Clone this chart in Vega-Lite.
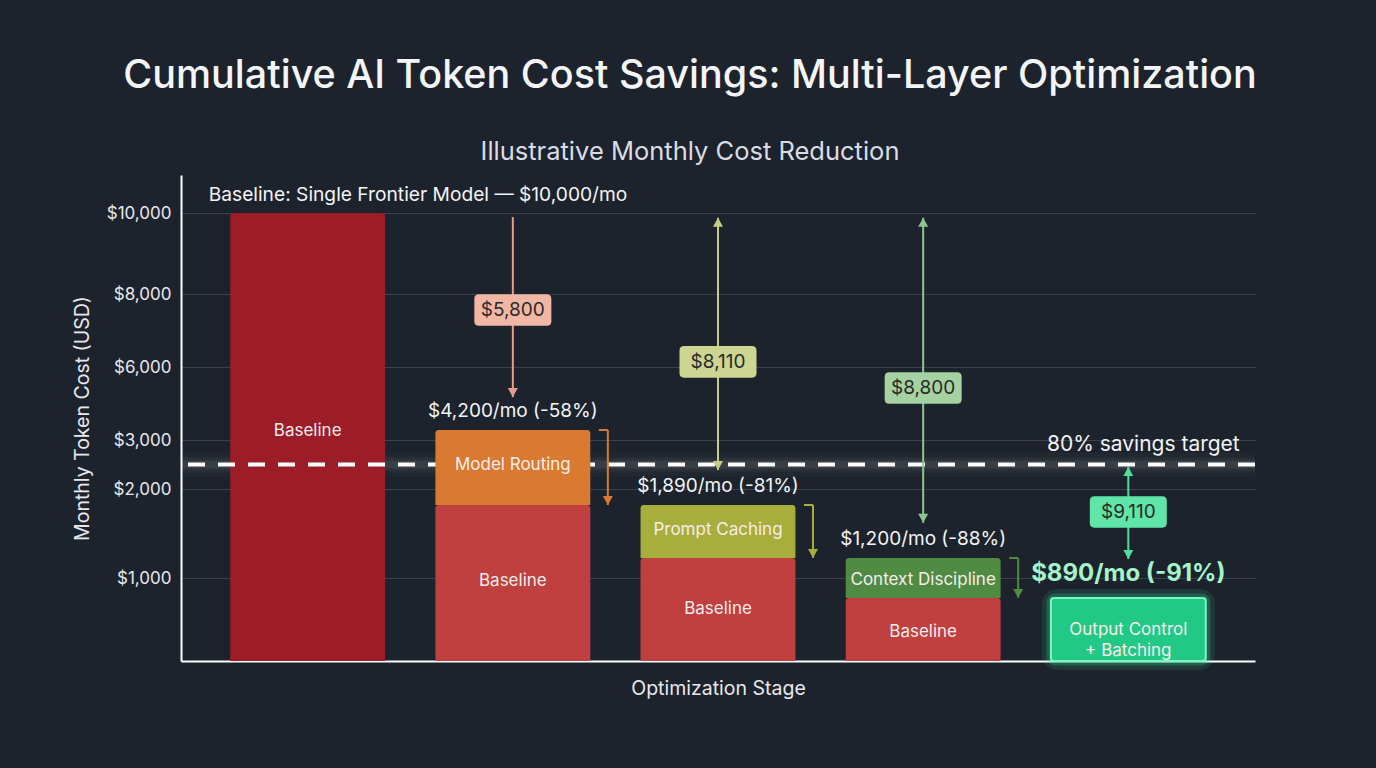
{
  "$schema": "https://vega.github.io/schema/vega-lite/v6.json",
  "width": 1074,
  "height": 486,
  "autosize": {"type": "none"},
  "padding": {"left": 181, "top": 175, "right": 121, "bottom": 107},
  "background": "#1d232c",
  "title": {
    "text": "Cumulative AI Token Cost Savings: Multi-Layer Optimization",
    "subtitle": "Illustrative Monthly Cost Reduction",
    "anchor": "middle",
    "dx": -28,
    "offset": 9,
    "font": "Inter",
    "subtitleFont": "Inter",
    "fontSize": 39.5,
    "fontWeight": 500,
    "color": "#f3f5f8",
    "subtitleFontSize": 25.5,
    "subtitleColor": "#d9dde3",
    "subtitlePadding": 43
  },
  "datasets": {
    "segments": [
      {"stage": "Baseline", "segment": "Baseline (original)", "label": "Baseline", "start": 0, "end": 10000, "label_at": 4080},
      {"stage": "Model Routing", "segment": "Baseline (remaining)", "label": "Baseline", "start": 0, "end": 1890, "label_at": 983},
      {"stage": "Model Routing", "segment": "Model Routing", "label": "Model Routing", "start": 1890, "end": 4200, "label_at": 2480},
      {"stage": "Prompt Caching", "segment": "Baseline (remaining)", "label": "Baseline", "start": 0, "end": 1200, "label_at": 735},
      {"stage": "Prompt Caching", "segment": "Prompt Caching", "label": "Prompt Caching", "start": 1200, "end": 1890, "label_at": 1565},
      {"stage": "Context Discipline", "segment": "Baseline (remaining)", "label": "Baseline", "start": 0, "end": 890, "label_at": 410},
      {"stage": "Context Discipline", "segment": "Context Discipline", "label": "Context Discipline", "start": 890, "end": 1200, "label_at": 989},
      {"stage": "Output Control + Batching", "segment": "Output Control + Batching", "label": "Output Control\n+ Batching", "start": 0, "end": 890, "label_at": 438}
    ],
    "stages": [
      {"stage": "Baseline", "total": 10000, "text": "Baseline: Single Frontier Model — $10,000/mo"},
      {"stage": "Model Routing", "total": 4200, "text": "$4,200/mo (-58%)"},
      {"stage": "Prompt Caching", "total": 1890, "text": "$1,890/mo (-81%)"},
      {"stage": "Context Discipline", "total": 1200, "text": "$1,200/mo (-88%)"},
      {"stage": "Output Control + Batching", "total": 890, "text": "$890/mo (-91%)"}
    ],
    "arrows": [
      {"stage": "Model Routing", "arrow": "$5,800", "from": 9900, "to": 5140, "label_at": 7560, "double": false},
      {"stage": "Prompt Caching", "arrow": "$8,110", "from": 9880, "to": 2390, "label_at": 6140, "double": true},
      {"stage": "Context Discipline", "arrow": "$8,800", "from": 9880, "to": 1660, "label_at": 5400, "double": true},
      {"stage": "Output Control + Batching", "arrow": "$9,110", "from": 2450, "to": 1190, "label_at": 1800, "double": true}
    ],
    "target": [
      {"stage": "Output Control + Batching", "value": 2500, "label": "80% savings target"}
    ]
  },
  "layer": [
    {
      "data": {"name": "target"},
      "mark": {"type": "rule", "color": "#ffffff", "strokeWidth": 24, "opacity": 0.025},
      "encoding": {"y": {"field": "value", "type": "quantitative", "scale": {"type": "linear", "domain": [0, 890, 1000, 1200, 1890, 2000, 3000, 4200, 6000, 8000, 10000, 11000], "range": [486, 423, 403, 383, 330, 314, 265, 255, 192, 119, 38, 0], "nice": false, "zero": false}, "axis": {"values": [1000, 2000, 3000, 6000, 8000, 10000], "format": "$,.0f", "title": "Monthly Token Cost (USD)", "grid": true, "gridColor": "#3a414c", "gridWidth": 1, "domainColor": "#ffffff", "domainWidth": 2, "ticks": false, "labelPadding": 10, "labelFontSize": 17, "labelColor": "#e6e8ec", "labelFont": "Inter", "titleFont": "Inter", "titleFontSize": 19.5, "titleColor": "#e6e8ec", "titleFontWeight": "normal", "titlePadding": 14}}}
    },
    {
      "data": {"name": "target"},
      "mark": {"type": "rule", "color": "#ffffff", "strokeWidth": 14, "opacity": 0.04},
      "encoding": {"y": {"field": "value", "type": "quantitative", "scale": {"type": "linear", "domain": [0, 890, 1000, 1200, 1890, 2000, 3000, 4200, 6000, 8000, 10000, 11000], "range": [486, 423, 403, 383, 330, 314, 265, 255, 192, 119, 38, 0], "nice": false, "zero": false}, "axis": {"values": [1000, 2000, 3000, 6000, 8000, 10000], "format": "$,.0f", "title": "Monthly Token Cost (USD)", "grid": true, "gridColor": "#3a414c", "gridWidth": 1, "domainColor": "#ffffff", "domainWidth": 2, "ticks": false, "labelPadding": 10, "labelFontSize": 17, "labelColor": "#e6e8ec", "labelFont": "Inter", "titleFont": "Inter", "titleFontSize": 19.5, "titleColor": "#e6e8ec", "titleFontWeight": "normal", "titlePadding": 14}}}
    },
    {
      "data": {"name": "target"},
      "mark": {"type": "rule", "color": "#ffffff", "strokeWidth": 8, "opacity": 0.07},
      "encoding": {"y": {"field": "value", "type": "quantitative", "scale": {"type": "linear", "domain": [0, 890, 1000, 1200, 1890, 2000, 3000, 4200, 6000, 8000, 10000, 11000], "range": [486, 423, 403, 383, 330, 314, 265, 255, 192, 119, 38, 0], "nice": false, "zero": false}, "axis": {"values": [1000, 2000, 3000, 6000, 8000, 10000], "format": "$,.0f", "title": "Monthly Token Cost (USD)", "grid": true, "gridColor": "#3a414c", "gridWidth": 1, "domainColor": "#ffffff", "domainWidth": 2, "ticks": false, "labelPadding": 10, "labelFontSize": 17, "labelColor": "#e6e8ec", "labelFont": "Inter", "titleFont": "Inter", "titleFontSize": 19.5, "titleColor": "#e6e8ec", "titleFontWeight": "normal", "titlePadding": 14}}}
    },
    {
      "data": {"name": "segments"},
      "transform": [{"filter": "datum.segment === 'Baseline (original)'"}],
      "mark": {"type": "bar", "cornerRadiusTopLeft": 3, "cornerRadiusTopRight": 3},
      "encoding": {
        "x": {"field": "stage", "type": "nominal", "title": "Optimization Stage", "scale": {"domain": ["Baseline", "Model Routing", "Prompt Caching", "Context Discipline", "Output Control + Batching"], "paddingInner": 0.245, "paddingOuter": 0.24}},
        "y": {"field": "end", "type": "quantitative", "scale": {"type": "linear", "domain": [0, 890, 1000, 1200, 1890, 2000, 3000, 4200, 6000, 8000, 10000, 11000], "range": [486, 423, 403, 383, 330, 314, 265, 255, 192, 119, 38, 0], "nice": false, "zero": false}, "axis": {"values": [1000, 2000, 3000, 6000, 8000, 10000], "format": "$,.0f", "title": "Monthly Token Cost (USD)", "grid": true, "gridColor": "#3a414c", "gridWidth": 1, "domainColor": "#ffffff", "domainWidth": 2, "ticks": false, "labelPadding": 10, "labelFontSize": 17, "labelColor": "#e6e8ec", "labelFont": "Inter", "titleFont": "Inter", "titleFontSize": 19.5, "titleColor": "#e6e8ec", "titleFontWeight": "normal", "titlePadding": 14}},
        "y2": {"field": "start"},
        "color": {"field": "segment", "type": "nominal", "legend": null, "scale": {"domain": ["Baseline (original)", "Baseline (remaining)", "Model Routing", "Prompt Caching", "Context Discipline", "Output Control + Batching", "$5,800", "$8,110", "$8,800", "$9,110"], "range": ["#9c1d27", "#c0403f", "#d97a30", "#a7ae3b", "#4f8b43", "#22c886", "#e39d89", "#c6cc86", "#8ec48e", "#52dc9c"]}}
      }
    },
    {
      "data": {"name": "target"},
      "mark": {"type": "rule", "color": "#ffffff", "strokeWidth": 4, "strokeDash": [17, 13]},
      "encoding": {"y": {"field": "value", "type": "quantitative", "scale": {"type": "linear", "domain": [0, 890, 1000, 1200, 1890, 2000, 3000, 4200, 6000, 8000, 10000, 11000], "range": [486, 423, 403, 383, 330, 314, 265, 255, 192, 119, 38, 0], "nice": false, "zero": false}, "axis": {"values": [1000, 2000, 3000, 6000, 8000, 10000], "format": "$,.0f", "title": "Monthly Token Cost (USD)", "grid": true, "gridColor": "#3a414c", "gridWidth": 1, "domainColor": "#ffffff", "domainWidth": 2, "ticks": false, "labelPadding": 10, "labelFontSize": 17, "labelColor": "#e6e8ec", "labelFont": "Inter", "titleFont": "Inter", "titleFontSize": 19.5, "titleColor": "#e6e8ec", "titleFontWeight": "normal", "titlePadding": 14}}}
    },
    {
      "data": {"name": "segments"},
      "transform": [{"filter": "datum.segment === 'Output Control + Batching'"}],
      "mark": {"type": "bar", "stroke": "#2ff5a2", "strokeWidth": 18, "strokeOpacity": 0.1, "cornerRadius": 6},
      "encoding": {
        "x": {"field": "stage", "type": "nominal", "title": "Optimization Stage", "scale": {"domain": ["Baseline", "Model Routing", "Prompt Caching", "Context Discipline", "Output Control + Batching"], "paddingInner": 0.245, "paddingOuter": 0.24}},
        "y": {"field": "end", "type": "quantitative", "scale": {"type": "linear", "domain": [0, 890, 1000, 1200, 1890, 2000, 3000, 4200, 6000, 8000, 10000, 11000], "range": [486, 423, 403, 383, 330, 314, 265, 255, 192, 119, 38, 0], "nice": false, "zero": false}, "axis": {"values": [1000, 2000, 3000, 6000, 8000, 10000], "format": "$,.0f", "title": "Monthly Token Cost (USD)", "grid": true, "gridColor": "#3a414c", "gridWidth": 1, "domainColor": "#ffffff", "domainWidth": 2, "ticks": false, "labelPadding": 10, "labelFontSize": 17, "labelColor": "#e6e8ec", "labelFont": "Inter", "titleFont": "Inter", "titleFontSize": 19.5, "titleColor": "#e6e8ec", "titleFontWeight": "normal", "titlePadding": 14}},
        "y2": {"field": "start"},
        "color": {"field": "segment", "type": "nominal", "legend": null, "scale": {"domain": ["Baseline (original)", "Baseline (remaining)", "Model Routing", "Prompt Caching", "Context Discipline", "Output Control + Batching", "$5,800", "$8,110", "$8,800", "$9,110"], "range": ["#9c1d27", "#c0403f", "#d97a30", "#a7ae3b", "#4f8b43", "#22c886", "#e39d89", "#c6cc86", "#8ec48e", "#52dc9c"]}}
      }
    },
    {
      "data": {"name": "segments"},
      "transform": [{"filter": "datum.segment === 'Output Control + Batching'"}],
      "mark": {"type": "bar", "stroke": "#2ff5a2", "strokeWidth": 9, "strokeOpacity": 0.22, "cornerRadius": 4},
      "encoding": {
        "x": {"field": "stage", "type": "nominal", "title": "Optimization Stage", "scale": {"domain": ["Baseline", "Model Routing", "Prompt Caching", "Context Discipline", "Output Control + Batching"], "paddingInner": 0.245, "paddingOuter": 0.24}},
        "y": {"field": "end", "type": "quantitative", "scale": {"type": "linear", "domain": [0, 890, 1000, 1200, 1890, 2000, 3000, 4200, 6000, 8000, 10000, 11000], "range": [486, 423, 403, 383, 330, 314, 265, 255, 192, 119, 38, 0], "nice": false, "zero": false}, "axis": {"values": [1000, 2000, 3000, 6000, 8000, 10000], "format": "$,.0f", "title": "Monthly Token Cost (USD)", "grid": true, "gridColor": "#3a414c", "gridWidth": 1, "domainColor": "#ffffff", "domainWidth": 2, "ticks": false, "labelPadding": 10, "labelFontSize": 17, "labelColor": "#e6e8ec", "labelFont": "Inter", "titleFont": "Inter", "titleFontSize": 19.5, "titleColor": "#e6e8ec", "titleFontWeight": "normal", "titlePadding": 14}},
        "y2": {"field": "start"},
        "color": {"field": "segment", "type": "nominal", "legend": null, "scale": {"domain": ["Baseline (original)", "Baseline (remaining)", "Model Routing", "Prompt Caching", "Context Discipline", "Output Control + Batching", "$5,800", "$8,110", "$8,800", "$9,110"], "range": ["#9c1d27", "#c0403f", "#d97a30", "#a7ae3b", "#4f8b43", "#22c886", "#e39d89", "#c6cc86", "#8ec48e", "#52dc9c"]}}
      }
    },
    {
      "data": {"name": "segments"},
      "transform": [{"filter": "datum.segment !== 'Baseline (original)'"}],
      "mark": {"type": "bar", "cornerRadiusTopLeft": 3, "cornerRadiusTopRight": 3},
      "encoding": {
        "x": {"field": "stage", "type": "nominal", "title": "Optimization Stage", "scale": {"domain": ["Baseline", "Model Routing", "Prompt Caching", "Context Discipline", "Output Control + Batching"], "paddingInner": 0.245, "paddingOuter": 0.24}},
        "y": {"field": "end", "type": "quantitative", "scale": {"type": "linear", "domain": [0, 890, 1000, 1200, 1890, 2000, 3000, 4200, 6000, 8000, 10000, 11000], "range": [486, 423, 403, 383, 330, 314, 265, 255, 192, 119, 38, 0], "nice": false, "zero": false}, "axis": {"values": [1000, 2000, 3000, 6000, 8000, 10000], "format": "$,.0f", "title": "Monthly Token Cost (USD)", "grid": true, "gridColor": "#3a414c", "gridWidth": 1, "domainColor": "#ffffff", "domainWidth": 2, "ticks": false, "labelPadding": 10, "labelFontSize": 17, "labelColor": "#e6e8ec", "labelFont": "Inter", "titleFont": "Inter", "titleFontSize": 19.5, "titleColor": "#e6e8ec", "titleFontWeight": "normal", "titlePadding": 14}},
        "y2": {"field": "start"},
        "color": {"field": "segment", "type": "nominal", "legend": null, "scale": {"domain": ["Baseline (original)", "Baseline (remaining)", "Model Routing", "Prompt Caching", "Context Discipline", "Output Control + Batching", "$5,800", "$8,110", "$8,800", "$9,110"], "range": ["#9c1d27", "#c0403f", "#d97a30", "#a7ae3b", "#4f8b43", "#22c886", "#e39d89", "#c6cc86", "#8ec48e", "#52dc9c"]}}
      }
    },
    {
      "data": {"name": "segments"},
      "transform": [{"filter": "datum.segment === 'Output Control + Batching'"}],
      "mark": {"type": "bar", "fillOpacity": 0, "stroke": "#7df7c2", "strokeWidth": 2, "cornerRadius": 3},
      "encoding": {
        "x": {"field": "stage", "type": "nominal", "title": "Optimization Stage", "scale": {"domain": ["Baseline", "Model Routing", "Prompt Caching", "Context Discipline", "Output Control + Batching"], "paddingInner": 0.245, "paddingOuter": 0.24}},
        "y": {"field": "end", "type": "quantitative", "scale": {"type": "linear", "domain": [0, 890, 1000, 1200, 1890, 2000, 3000, 4200, 6000, 8000, 10000, 11000], "range": [486, 423, 403, 383, 330, 314, 265, 255, 192, 119, 38, 0], "nice": false, "zero": false}, "axis": {"values": [1000, 2000, 3000, 6000, 8000, 10000], "format": "$,.0f", "title": "Monthly Token Cost (USD)", "grid": true, "gridColor": "#3a414c", "gridWidth": 1, "domainColor": "#ffffff", "domainWidth": 2, "ticks": false, "labelPadding": 10, "labelFontSize": 17, "labelColor": "#e6e8ec", "labelFont": "Inter", "titleFont": "Inter", "titleFontSize": 19.5, "titleColor": "#e6e8ec", "titleFontWeight": "normal", "titlePadding": 14}},
        "y2": {"field": "start"}
      }
    },
    {
      "data": {"name": "segments"},
      "mark": {"type": "text", "font": "Inter", "fontSize": 17, "color": "#f8ecec", "lineBreak": "\n", "baseline": "middle", "lineHeight": 21},
      "encoding": {
        "x": {"field": "stage", "type": "nominal", "title": "Optimization Stage", "scale": {"domain": ["Baseline", "Model Routing", "Prompt Caching", "Context Discipline", "Output Control + Batching"], "paddingInner": 0.245, "paddingOuter": 0.24}},
        "y": {"field": "label_at", "type": "quantitative", "scale": {"type": "linear", "domain": [0, 890, 1000, 1200, 1890, 2000, 3000, 4200, 6000, 8000, 10000, 11000], "range": [486, 423, 403, 383, 330, 314, 265, 255, 192, 119, 38, 0], "nice": false, "zero": false}, "axis": {"values": [1000, 2000, 3000, 6000, 8000, 10000], "format": "$,.0f", "title": "Monthly Token Cost (USD)", "grid": true, "gridColor": "#3a414c", "gridWidth": 1, "domainColor": "#ffffff", "domainWidth": 2, "ticks": false, "labelPadding": 10, "labelFontSize": 17, "labelColor": "#e6e8ec", "labelFont": "Inter", "titleFont": "Inter", "titleFontSize": 19.5, "titleColor": "#e6e8ec", "titleFontWeight": "normal", "titlePadding": 14}},
        "text": {"field": "label"}
      }
    },
    {
      "data": {"name": "stages"},
      "transform": [{"filter": "datum.stage !== 'Baseline' && datum.stage !== 'Output Control + Batching'"}],
      "mark": {"type": "text", "font": "Inter", "fontSize": 19, "color": "#f3f4f6", "dy": -19, "baseline": "middle"},
      "encoding": {
        "x": {"field": "stage", "type": "nominal", "title": "Optimization Stage", "scale": {"domain": ["Baseline", "Model Routing", "Prompt Caching", "Context Discipline", "Output Control + Batching"], "paddingInner": 0.245, "paddingOuter": 0.24}},
        "y": {"field": "total", "type": "quantitative", "scale": {"type": "linear", "domain": [0, 890, 1000, 1200, 1890, 2000, 3000, 4200, 6000, 8000, 10000, 11000], "range": [486, 423, 403, 383, 330, 314, 265, 255, 192, 119, 38, 0], "nice": false, "zero": false}, "axis": {"values": [1000, 2000, 3000, 6000, 8000, 10000], "format": "$,.0f", "title": "Monthly Token Cost (USD)", "grid": true, "gridColor": "#3a414c", "gridWidth": 1, "domainColor": "#ffffff", "domainWidth": 2, "ticks": false, "labelPadding": 10, "labelFontSize": 17, "labelColor": "#e6e8ec", "labelFont": "Inter", "titleFont": "Inter", "titleFontSize": 19.5, "titleColor": "#e6e8ec", "titleFontWeight": "normal", "titlePadding": 14}},
        "text": {"field": "text"}
      }
    },
    {
      "data": {"name": "stages"},
      "transform": [{"filter": "datum.stage === 'Output Control + Batching'"}],
      "mark": {"type": "text", "font": "Inter", "fontSize": 24, "fontWeight": "bold", "color": "#a4f3cb", "dy": -24, "baseline": "middle"},
      "encoding": {
        "x": {"field": "stage", "type": "nominal", "title": "Optimization Stage", "scale": {"domain": ["Baseline", "Model Routing", "Prompt Caching", "Context Discipline", "Output Control + Batching"], "paddingInner": 0.245, "paddingOuter": 0.24}},
        "y": {"field": "total", "type": "quantitative", "scale": {"type": "linear", "domain": [0, 890, 1000, 1200, 1890, 2000, 3000, 4200, 6000, 8000, 10000, 11000], "range": [486, 423, 403, 383, 330, 314, 265, 255, 192, 119, 38, 0], "nice": false, "zero": false}, "axis": {"values": [1000, 2000, 3000, 6000, 8000, 10000], "format": "$,.0f", "title": "Monthly Token Cost (USD)", "grid": true, "gridColor": "#3a414c", "gridWidth": 1, "domainColor": "#ffffff", "domainWidth": 2, "ticks": false, "labelPadding": 10, "labelFontSize": 17, "labelColor": "#e6e8ec", "labelFont": "Inter", "titleFont": "Inter", "titleFontSize": 19.5, "titleColor": "#e6e8ec", "titleFontWeight": "normal", "titlePadding": 14}},
        "text": {"field": "text"}
      }
    },
    {
      "data": {"name": "stages"},
      "transform": [{"filter": "datum.stage === 'Baseline'"}],
      "mark": {"type": "text", "font": "Inter", "fontSize": 19.2, "color": "#f3f4f6", "dy": -18, "dx": -99, "align": "left", "baseline": "middle"},
      "encoding": {
        "x": {"field": "stage", "type": "nominal", "title": "Optimization Stage", "scale": {"domain": ["Baseline", "Model Routing", "Prompt Caching", "Context Discipline", "Output Control + Batching"], "paddingInner": 0.245, "paddingOuter": 0.24}},
        "y": {"field": "total", "type": "quantitative", "scale": {"type": "linear", "domain": [0, 890, 1000, 1200, 1890, 2000, 3000, 4200, 6000, 8000, 10000, 11000], "range": [486, 423, 403, 383, 330, 314, 265, 255, 192, 119, 38, 0], "nice": false, "zero": false}, "axis": {"values": [1000, 2000, 3000, 6000, 8000, 10000], "format": "$,.0f", "title": "Monthly Token Cost (USD)", "grid": true, "gridColor": "#3a414c", "gridWidth": 1, "domainColor": "#ffffff", "domainWidth": 2, "ticks": false, "labelPadding": 10, "labelFontSize": 17, "labelColor": "#e6e8ec", "labelFont": "Inter", "titleFont": "Inter", "titleFontSize": 19.5, "titleColor": "#e6e8ec", "titleFontWeight": "normal", "titlePadding": 14}},
        "text": {"field": "text"}
      }
    },
    {
      "data": {"name": "target"},
      "mark": {"type": "text", "font": "Inter", "fontSize": 21, "color": "#f0f2f5", "dy": -20, "dx": 15, "baseline": "middle"},
      "encoding": {
        "x": {"field": "stage", "type": "nominal", "title": "Optimization Stage", "scale": {"domain": ["Baseline", "Model Routing", "Prompt Caching", "Context Discipline", "Output Control + Batching"], "paddingInner": 0.245, "paddingOuter": 0.24}},
        "y": {"field": "value", "type": "quantitative", "scale": {"type": "linear", "domain": [0, 890, 1000, 1200, 1890, 2000, 3000, 4200, 6000, 8000, 10000, 11000], "range": [486, 423, 403, 383, 330, 314, 265, 255, 192, 119, 38, 0], "nice": false, "zero": false}, "axis": {"values": [1000, 2000, 3000, 6000, 8000, 10000], "format": "$,.0f", "title": "Monthly Token Cost (USD)", "grid": true, "gridColor": "#3a414c", "gridWidth": 1, "domainColor": "#ffffff", "domainWidth": 2, "ticks": false, "labelPadding": 10, "labelFontSize": 17, "labelColor": "#e6e8ec", "labelFont": "Inter", "titleFont": "Inter", "titleFontSize": 19.5, "titleColor": "#e6e8ec", "titleFontWeight": "normal", "titlePadding": 14}},
        "text": {"field": "label"}
      }
    },
    {
      "data": {"name": "segments"},
      "transform": [{"filter": {"field": "segment", "oneOf": ["Model Routing", "Prompt Caching", "Context Discipline"]}}],
      "mark": {"type": "rule", "strokeWidth": 2, "xOffset": 95},
      "encoding": {
        "x": {"field": "stage", "type": "nominal", "title": "Optimization Stage", "scale": {"domain": ["Baseline", "Model Routing", "Prompt Caching", "Context Discipline", "Output Control + Batching"], "paddingInner": 0.245, "paddingOuter": 0.24}},
        "y": {"field": "end", "type": "quantitative", "scale": {"type": "linear", "domain": [0, 890, 1000, 1200, 1890, 2000, 3000, 4200, 6000, 8000, 10000, 11000], "range": [486, 423, 403, 383, 330, 314, 265, 255, 192, 119, 38, 0], "nice": false, "zero": false}, "axis": {"values": [1000, 2000, 3000, 6000, 8000, 10000], "format": "$,.0f", "title": "Monthly Token Cost (USD)", "grid": true, "gridColor": "#3a414c", "gridWidth": 1, "domainColor": "#ffffff", "domainWidth": 2, "ticks": false, "labelPadding": 10, "labelFontSize": 17, "labelColor": "#e6e8ec", "labelFont": "Inter", "titleFont": "Inter", "titleFontSize": 19.5, "titleColor": "#e6e8ec", "titleFontWeight": "normal", "titlePadding": 14}},
        "y2": {"field": "start"},
        "color": {"field": "segment", "type": "nominal", "legend": null, "scale": {"domain": ["Baseline (original)", "Baseline (remaining)", "Model Routing", "Prompt Caching", "Context Discipline", "Output Control + Batching", "$5,800", "$8,110", "$8,800", "$9,110"], "range": ["#9c1d27", "#c0403f", "#d97a30", "#a7ae3b", "#4f8b43", "#22c886", "#e39d89", "#c6cc86", "#8ec48e", "#52dc9c"]}}
      }
    },
    {
      "data": {"name": "segments"},
      "transform": [{"filter": {"field": "segment", "oneOf": ["Model Routing", "Prompt Caching", "Context Discipline"]}}],
      "mark": {"type": "point", "filled": true, "opacity": 1, "strokeWidth": 0, "size": 100, "shape": "M0,0L-1,-1.8L1,-1.8Z", "xOffset": 95},
      "encoding": {
        "x": {"field": "stage", "type": "nominal", "title": "Optimization Stage", "scale": {"domain": ["Baseline", "Model Routing", "Prompt Caching", "Context Discipline", "Output Control + Batching"], "paddingInner": 0.245, "paddingOuter": 0.24}},
        "y": {"field": "start", "type": "quantitative", "scale": {"type": "linear", "domain": [0, 890, 1000, 1200, 1890, 2000, 3000, 4200, 6000, 8000, 10000, 11000], "range": [486, 423, 403, 383, 330, 314, 265, 255, 192, 119, 38, 0], "nice": false, "zero": false}, "axis": {"values": [1000, 2000, 3000, 6000, 8000, 10000], "format": "$,.0f", "title": "Monthly Token Cost (USD)", "grid": true, "gridColor": "#3a414c", "gridWidth": 1, "domainColor": "#ffffff", "domainWidth": 2, "ticks": false, "labelPadding": 10, "labelFontSize": 17, "labelColor": "#e6e8ec", "labelFont": "Inter", "titleFont": "Inter", "titleFontSize": 19.5, "titleColor": "#e6e8ec", "titleFontWeight": "normal", "titlePadding": 14}},
        "color": {"field": "segment", "type": "nominal", "legend": null, "scale": {"domain": ["Baseline (original)", "Baseline (remaining)", "Model Routing", "Prompt Caching", "Context Discipline", "Output Control + Batching", "$5,800", "$8,110", "$8,800", "$9,110"], "range": ["#9c1d27", "#c0403f", "#d97a30", "#a7ae3b", "#4f8b43", "#22c886", "#e39d89", "#c6cc86", "#8ec48e", "#52dc9c"]}}
      }
    },
    {
      "data": {"name": "segments"},
      "transform": [{"filter": {"field": "segment", "oneOf": ["Model Routing", "Prompt Caching", "Context Discipline"]}}],
      "mark": {"type": "point", "filled": false, "opacity": 1, "strokeWidth": 2, "size": 324, "shape": "M-1,0L0,0", "xOffset": 95},
      "encoding": {
        "x": {"field": "stage", "type": "nominal", "title": "Optimization Stage", "scale": {"domain": ["Baseline", "Model Routing", "Prompt Caching", "Context Discipline", "Output Control + Batching"], "paddingInner": 0.245, "paddingOuter": 0.24}},
        "y": {"field": "end", "type": "quantitative", "scale": {"type": "linear", "domain": [0, 890, 1000, 1200, 1890, 2000, 3000, 4200, 6000, 8000, 10000, 11000], "range": [486, 423, 403, 383, 330, 314, 265, 255, 192, 119, 38, 0], "nice": false, "zero": false}, "axis": {"values": [1000, 2000, 3000, 6000, 8000, 10000], "format": "$,.0f", "title": "Monthly Token Cost (USD)", "grid": true, "gridColor": "#3a414c", "gridWidth": 1, "domainColor": "#ffffff", "domainWidth": 2, "ticks": false, "labelPadding": 10, "labelFontSize": 17, "labelColor": "#e6e8ec", "labelFont": "Inter", "titleFont": "Inter", "titleFontSize": 19.5, "titleColor": "#e6e8ec", "titleFontWeight": "normal", "titlePadding": 14}},
        "color": {"field": "segment", "type": "nominal", "legend": null, "scale": {"domain": ["Baseline (original)", "Baseline (remaining)", "Model Routing", "Prompt Caching", "Context Discipline", "Output Control + Batching", "$5,800", "$8,110", "$8,800", "$9,110"], "range": ["#9c1d27", "#c0403f", "#d97a30", "#a7ae3b", "#4f8b43", "#22c886", "#e39d89", "#c6cc86", "#8ec48e", "#52dc9c"]}}
      }
    },
    {
      "data": {"name": "arrows"},
      "mark": {"type": "rule", "strokeWidth": 2},
      "encoding": {
        "x": {"field": "stage", "type": "nominal", "title": "Optimization Stage", "scale": {"domain": ["Baseline", "Model Routing", "Prompt Caching", "Context Discipline", "Output Control + Batching"], "paddingInner": 0.245, "paddingOuter": 0.24}},
        "y": {"field": "from", "type": "quantitative", "scale": {"type": "linear", "domain": [0, 890, 1000, 1200, 1890, 2000, 3000, 4200, 6000, 8000, 10000, 11000], "range": [486, 423, 403, 383, 330, 314, 265, 255, 192, 119, 38, 0], "nice": false, "zero": false}, "axis": {"values": [1000, 2000, 3000, 6000, 8000, 10000], "format": "$,.0f", "title": "Monthly Token Cost (USD)", "grid": true, "gridColor": "#3a414c", "gridWidth": 1, "domainColor": "#ffffff", "domainWidth": 2, "ticks": false, "labelPadding": 10, "labelFontSize": 17, "labelColor": "#e6e8ec", "labelFont": "Inter", "titleFont": "Inter", "titleFontSize": 19.5, "titleColor": "#e6e8ec", "titleFontWeight": "normal", "titlePadding": 14}},
        "y2": {"field": "to"},
        "color": {"field": "arrow", "type": "nominal", "legend": null, "scale": {"domain": ["Baseline (original)", "Baseline (remaining)", "Model Routing", "Prompt Caching", "Context Discipline", "Output Control + Batching", "$5,800", "$8,110", "$8,800", "$9,110"], "range": ["#9c1d27", "#c0403f", "#d97a30", "#a7ae3b", "#4f8b43", "#22c886", "#e39d89", "#c6cc86", "#8ec48e", "#52dc9c"]}}
      }
    },
    {
      "data": {"name": "arrows"},
      "mark": {"type": "point", "filled": true, "opacity": 1, "strokeWidth": 0, "size": 100, "shape": "M0,0L-1,-1.8L1,-1.8Z"},
      "encoding": {
        "x": {"field": "stage", "type": "nominal", "title": "Optimization Stage", "scale": {"domain": ["Baseline", "Model Routing", "Prompt Caching", "Context Discipline", "Output Control + Batching"], "paddingInner": 0.245, "paddingOuter": 0.24}},
        "y": {"field": "to", "type": "quantitative", "scale": {"type": "linear", "domain": [0, 890, 1000, 1200, 1890, 2000, 3000, 4200, 6000, 8000, 10000, 11000], "range": [486, 423, 403, 383, 330, 314, 265, 255, 192, 119, 38, 0], "nice": false, "zero": false}, "axis": {"values": [1000, 2000, 3000, 6000, 8000, 10000], "format": "$,.0f", "title": "Monthly Token Cost (USD)", "grid": true, "gridColor": "#3a414c", "gridWidth": 1, "domainColor": "#ffffff", "domainWidth": 2, "ticks": false, "labelPadding": 10, "labelFontSize": 17, "labelColor": "#e6e8ec", "labelFont": "Inter", "titleFont": "Inter", "titleFontSize": 19.5, "titleColor": "#e6e8ec", "titleFontWeight": "normal", "titlePadding": 14}},
        "color": {"field": "arrow", "type": "nominal", "legend": null, "scale": {"domain": ["Baseline (original)", "Baseline (remaining)", "Model Routing", "Prompt Caching", "Context Discipline", "Output Control + Batching", "$5,800", "$8,110", "$8,800", "$9,110"], "range": ["#9c1d27", "#c0403f", "#d97a30", "#a7ae3b", "#4f8b43", "#22c886", "#e39d89", "#c6cc86", "#8ec48e", "#52dc9c"]}}
      }
    },
    {
      "data": {"name": "arrows"},
      "transform": [{"filter": "datum.double"}],
      "mark": {"type": "point", "filled": true, "opacity": 1, "strokeWidth": 0, "size": 100, "shape": "M0,0L-1,1.8L1,1.8Z"},
      "encoding": {
        "x": {"field": "stage", "type": "nominal", "title": "Optimization Stage", "scale": {"domain": ["Baseline", "Model Routing", "Prompt Caching", "Context Discipline", "Output Control + Batching"], "paddingInner": 0.245, "paddingOuter": 0.24}},
        "y": {"field": "from", "type": "quantitative", "scale": {"type": "linear", "domain": [0, 890, 1000, 1200, 1890, 2000, 3000, 4200, 6000, 8000, 10000, 11000], "range": [486, 423, 403, 383, 330, 314, 265, 255, 192, 119, 38, 0], "nice": false, "zero": false}, "axis": {"values": [1000, 2000, 3000, 6000, 8000, 10000], "format": "$,.0f", "title": "Monthly Token Cost (USD)", "grid": true, "gridColor": "#3a414c", "gridWidth": 1, "domainColor": "#ffffff", "domainWidth": 2, "ticks": false, "labelPadding": 10, "labelFontSize": 17, "labelColor": "#e6e8ec", "labelFont": "Inter", "titleFont": "Inter", "titleFontSize": 19.5, "titleColor": "#e6e8ec", "titleFontWeight": "normal", "titlePadding": 14}},
        "color": {"field": "arrow", "type": "nominal", "legend": null, "scale": {"domain": ["Baseline (original)", "Baseline (remaining)", "Model Routing", "Prompt Caching", "Context Discipline", "Output Control + Batching", "$5,800", "$8,110", "$8,800", "$9,110"], "range": ["#9c1d27", "#c0403f", "#d97a30", "#a7ae3b", "#4f8b43", "#22c886", "#e39d89", "#c6cc86", "#8ec48e", "#52dc9c"]}}
      }
    },
    {
      "data": {"name": "arrows"},
      "mark": {"type": "point", "filled": true, "opacity": 1, "strokeWidth": 0, "size": 5929, "shape": "M-0.88,-0.41L0.88,-0.41Q1,-0.41 1,-0.29L1,0.29Q1,0.41 0.88,0.41L-0.88,0.41Q-1,0.41 -1,0.29L-1,-0.29Q-1,-0.41 -0.88,-0.41Z"},
      "encoding": {
        "x": {"field": "stage", "type": "nominal", "title": "Optimization Stage", "scale": {"domain": ["Baseline", "Model Routing", "Prompt Caching", "Context Discipline", "Output Control + Batching"], "paddingInner": 0.245, "paddingOuter": 0.24}},
        "y": {"field": "label_at", "type": "quantitative", "scale": {"type": "linear", "domain": [0, 890, 1000, 1200, 1890, 2000, 3000, 4200, 6000, 8000, 10000, 11000], "range": [486, 423, 403, 383, 330, 314, 265, 255, 192, 119, 38, 0], "nice": false, "zero": false}, "axis": {"values": [1000, 2000, 3000, 6000, 8000, 10000], "format": "$,.0f", "title": "Monthly Token Cost (USD)", "grid": true, "gridColor": "#3a414c", "gridWidth": 1, "domainColor": "#ffffff", "domainWidth": 2, "ticks": false, "labelPadding": 10, "labelFontSize": 17, "labelColor": "#e6e8ec", "labelFont": "Inter", "titleFont": "Inter", "titleFontSize": 19.5, "titleColor": "#e6e8ec", "titleFontWeight": "normal", "titlePadding": 14}},
        "fill": {"field": "arrow", "type": "nominal", "legend": null, "scale": {"domain": ["$5,800", "$8,110", "$8,800", "$9,110"], "range": ["#f2b7a4", "#cdd592", "#a4d2a1", "#5fe5a8"]}}
      }
    },
    {
      "data": {"name": "arrows"},
      "mark": {"type": "text", "font": "Inter", "fontSize": 19, "color": "#2a2a2a", "baseline": "middle"},
      "encoding": {
        "x": {"field": "stage", "type": "nominal", "title": "Optimization Stage", "scale": {"domain": ["Baseline", "Model Routing", "Prompt Caching", "Context Discipline", "Output Control + Batching"], "paddingInner": 0.245, "paddingOuter": 0.24}},
        "y": {"field": "label_at", "type": "quantitative", "scale": {"type": "linear", "domain": [0, 890, 1000, 1200, 1890, 2000, 3000, 4200, 6000, 8000, 10000, 11000], "range": [486, 423, 403, 383, 330, 314, 265, 255, 192, 119, 38, 0], "nice": false, "zero": false}, "axis": {"values": [1000, 2000, 3000, 6000, 8000, 10000], "format": "$,.0f", "title": "Monthly Token Cost (USD)", "grid": true, "gridColor": "#3a414c", "gridWidth": 1, "domainColor": "#ffffff", "domainWidth": 2, "ticks": false, "labelPadding": 10, "labelFontSize": 17, "labelColor": "#e6e8ec", "labelFont": "Inter", "titleFont": "Inter", "titleFontSize": 19.5, "titleColor": "#e6e8ec", "titleFontWeight": "normal", "titlePadding": 14}},
        "text": {"field": "arrow"}
      }
    }
  ],
  "config": {
    "font": "Inter",
    "view": {"stroke": null},
    "axisX": {"labels": false, "ticks": false, "grid": false, "domainColor": "#ffffff", "domainWidth": 2, "titleFont": "Inter", "titleFontSize": 19.5, "titleFontWeight": "normal", "titleColor": "#e6e8ec", "titlePadding": 18, "zindex": 1}
  }
}
